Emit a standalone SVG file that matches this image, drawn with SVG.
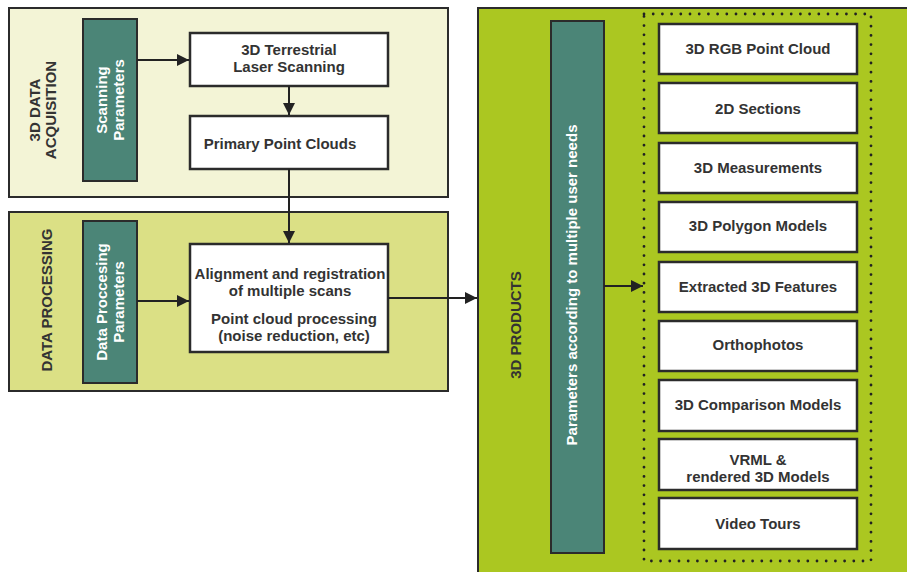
<svg xmlns="http://www.w3.org/2000/svg" width="907" height="572" viewBox="0 0 907 572">
  <defs>
    <style>
      .panel { stroke: #2b2b2b; stroke-width: 2; }
      .p1 { fill: #f3f4d6; }
      .p2 { fill: #dbe085; }
      .p3 { fill: #abc721; }
      .param { fill: #4b8577; stroke: #2b2b2b; stroke-width: 2; }
      .box { fill: #ffffff; stroke: #2b2b2b; stroke-width: 2.5; }
      .t { font-family: "Liberation Sans", Arial, sans-serif; font-weight: bold; font-size: 15px; fill: #333333; text-anchor: middle; }
      .w { fill: #ffffff; }
      .conn { stroke: #222222; stroke-width: 2; fill: none; }
      .dots { fill: none; stroke: #222222; stroke-width: 2.8; stroke-linecap: round; stroke-dasharray: 0 9.2; }
    </style>
    <marker id="arrow" viewBox="0 0 10 10" refX="10" refY="5" markerWidth="6" markerHeight="6" markerUnits="strokeWidth" orient="auto">
      <path d="M0,0 L10,5 L0,10 z" fill="#222222"/>
    </marker>
  </defs>

  <rect width="907" height="572" fill="#ffffff"/>

  <!-- stage panels -->
  <g id="acquisition">
    <rect class="panel p1" x="9" y="8" width="439" height="189"/>
    <text class="t" transform="translate(44,110) rotate(-90)"><tspan x="0" y="-4">3D DATA</tspan><tspan x="0" y="12">ACQUISITION</tspan></text>
  </g>
  <g id="processing">
    <rect class="panel p2" x="9" y="212" width="439" height="179"/>
    <text class="t" transform="translate(52,300) rotate(-90)">DATA PROCESSING</text>
  </g>
  <g id="products">
    <rect class="panel p3" x="478" y="8" width="440" height="580"/>
    <text class="t" transform="translate(521,325) rotate(-90)">3D PRODUCTS</text>
    <rect class="dots" x="644" y="14" width="227" height="547"/>
  </g>

  <!-- parameter bars -->
  <g id="scanning-parameters">
    <rect class="param" x="83" y="19" width="54" height="162"/>
    <text class="t w" transform="translate(111,100) rotate(-90)"><tspan x="0" y="-4">Scanning</tspan><tspan x="0" y="13">Parameters</tspan></text>
  </g>
  <g id="processing-parameters">
    <rect class="param" x="83" y="221" width="54" height="162"/>
    <text class="t w" transform="translate(111,302) rotate(-90)"><tspan x="0" y="-4">Data Proccesing</tspan><tspan x="0" y="13">Parameters</tspan></text>
  </g>
  <g id="user-parameters">
    <rect class="param" x="551" y="21" width="53" height="532"/>
    <text class="t w" transform="translate(577,285) rotate(-90)">Parameters according to multiple user needs</text>
  </g>

  <!-- process boxes -->
  <g id="laser-scanning">
    <rect class="box" x="190" y="33" width="198" height="53"/>
    <text class="t"><tspan x="289" y="55">3D Terrestrial</tspan><tspan x="289" y="72">Laser Scanning</tspan></text>
  </g>
  <g id="primary-clouds">
    <rect class="box" x="190" y="116" width="198" height="53"/>
    <text class="t" x="280" y="149">Primary Point Clouds</text>
  </g>
  <g id="alignment">
    <rect class="box" x="190" y="244" width="198" height="108"/>
    <text class="t"><tspan x="290" y="279">Alignment and registration</tspan><tspan x="290" y="296">of multiple scans</tspan><tspan x="294" y="324">Point cloud processing</tspan><tspan x="294" y="341">(noise reduction, etc)</tspan></text>
  </g>

  <!-- product boxes -->
  <g id="rgb-cloud"><rect class="box" x="659" y="24" width="198" height="50"/><text class="t" x="758" y="54">3D RGB Point Cloud</text></g>
  <g id="sections"><rect class="box" x="659" y="83" width="198" height="50"/><text class="t" x="758" y="114">2D Sections</text></g>
  <g id="measurements"><rect class="box" x="659" y="143" width="198" height="50"/><text class="t" x="758" y="173">3D Measurements</text></g>
  <g id="polygon-models"><rect class="box" x="659" y="202" width="198" height="50"/><text class="t" x="758" y="231">3D Polygon Models</text></g>
  <g id="features"><rect class="box" x="659" y="262" width="198" height="50"/><text class="t" x="758" y="292">Extracted 3D Features</text></g>
  <g id="orthophotos"><rect class="box" x="659" y="321" width="198" height="50"/><text class="t" x="758" y="350">Orthophotos</text></g>
  <g id="comparison"><rect class="box" x="659" y="380" width="198" height="51"/><text class="t" x="758" y="410">3D Comparison Models</text></g>
  <g id="vrml"><rect class="box" x="659" y="439" width="198" height="51"/><text class="t"><tspan x="758" y="465">VRML &amp;</tspan><tspan x="758" y="482">rendered 3D Models</tspan></text></g>
  <g id="video-tours"><rect class="box" x="659" y="498" width="198" height="51"/><text class="t" x="758" y="529">Video Tours</text></g>

  <!-- connectors -->
  <g id="connectors">
    <line class="conn" x1="137" y1="60" x2="189" y2="60" marker-end="url(#arrow)"/>
    <line class="conn" x1="289" y1="86" x2="289" y2="115" marker-end="url(#arrow)"/>
    <line class="conn" x1="289" y1="169" x2="289" y2="243" marker-end="url(#arrow)"/>
    <line class="conn" x1="137" y1="301" x2="189" y2="301" marker-end="url(#arrow)"/>
    <line class="conn" x1="388" y1="298" x2="477" y2="298" marker-end="url(#arrow)"/>
    <line class="conn" x1="604" y1="286" x2="643" y2="286" marker-end="url(#arrow)"/>
  </g>
</svg>
